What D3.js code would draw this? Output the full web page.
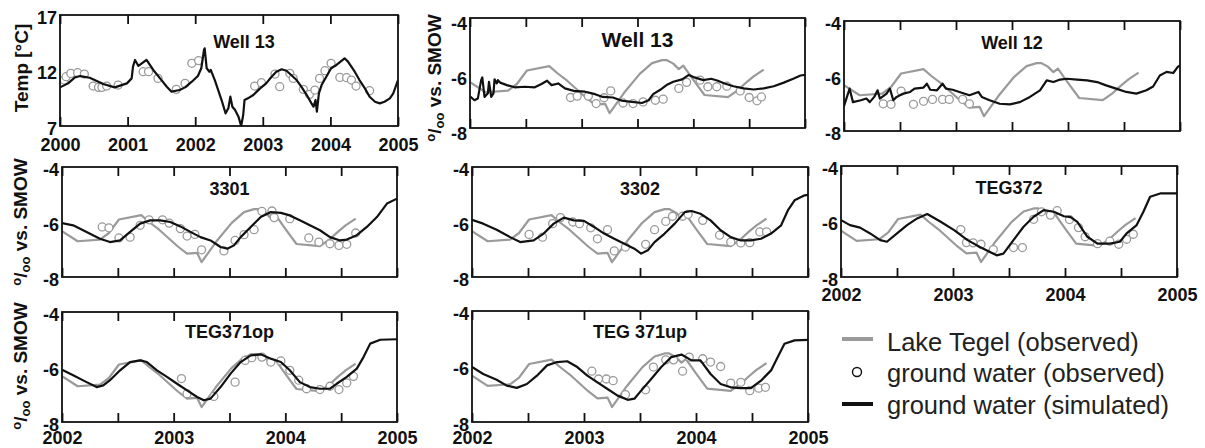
<!DOCTYPE html>
<html>
<head>
<meta charset="utf-8">
<script src="https://cdn.jsdelivr.net/npm/d3@7"></script>
<style>
  body { margin: 0; background: #fff; }
  svg { display: block; font-family: "Liberation Sans", Arial, sans-serif; }
</style>
</head>
<body>
<div id="chart"></div>
<script>
// ---- data: [decimal year, value] ----
// Lake Tegel (observed) d18O, same series in every isotope panel
var lakeTegel = [[2002.00,-6.33],[2002.14,-6.70],[2002.34,-6.64],[2002.42,-6.40],[2002.51,-5.91],[2002.71,-5.75],[2002.78,-6.00],[2002.87,-6.28],[2003.04,-6.90],[2003.12,-7.15],[2003.21,-7.12],[2003.25,-7.46],[2003.38,-6.72],[2003.52,-6.03],[2003.63,-5.64],[2003.72,-5.53],[2003.76,-5.53],[2003.82,-5.66],[2003.87,-5.86],[2003.91,-5.73],[2004.00,-6.25],[2004.10,-6.80],[2004.31,-6.88],[2004.40,-6.62],[2004.47,-6.36],[2004.54,-6.12],[2004.63,-5.88]];

// Well 13 temperature
var tempSim = [[2000.00,10.48],[2000.12,10.84],[2000.22,11.38],[2000.30,11.50],[2000.44,11.35],[2000.64,10.78],[2000.81,10.48],[2000.99,10.84],[2001.06,11.29],[2001.08,12.35],[2001.11,12.95],[2001.16,12.41],[2001.26,12.86],[2001.28,12.95],[2001.38,12.05],[2001.48,11.29],[2001.58,10.54],[2001.65,10.09],[2001.77,10.24],[2001.85,10.48],[2001.95,10.99],[2002.04,11.50],[2002.09,12.20],[2002.13,13.85],[2002.14,14.00],[2002.17,12.20],[2002.21,11.89],[2002.23,12.05],[2002.29,11.14],[2002.34,10.24],[2002.39,9.34],[2002.45,8.14],[2002.49,8.59],[2002.52,9.64],[2002.55,8.74],[2002.59,8.44],[2002.64,7.84],[2002.68,7.00],[2002.71,7.99],[2002.73,9.34],[2002.78,9.49],[2002.86,9.79],[2002.96,10.39],[2003.05,10.84],[2003.13,11.44],[2003.20,11.89],[2003.28,12.11],[2003.35,11.98],[2003.42,11.59],[2003.50,11.14],[2003.57,10.54],[2003.65,9.79],[2003.72,9.04],[2003.75,8.74],[2003.78,9.34],[2003.80,8.29],[2003.83,9.94],[2003.87,10.69],[2003.94,11.44],[2004.01,12.20],[2004.09,12.50],[2004.15,12.80],[2004.21,13.10],[2004.26,12.80],[2004.31,12.35],[2004.36,11.89],[2004.43,11.14],[2004.51,10.39],[2004.58,9.64],[2004.66,9.19],[2004.73,9.04],[2004.80,9.19],[2004.88,9.49],[2004.93,9.94],[2005.00,11.14]];
var tempObs = [[2000.06,11.14],[2000.09,11.44],[2000.16,11.74],[2000.26,11.80],[2000.36,11.68],[2000.49,10.60],[2000.57,10.48],[2000.62,10.48],[2000.69,10.60],[2000.86,10.69],[2001.23,11.89],[2001.31,11.89],[2001.45,11.29],[2001.72,10.30],[2001.85,10.84],[2001.95,12.65],[2002.05,12.89],[2002.88,10.60],[2002.98,10.90],[2003.18,11.68],[2003.25,10.54],[2003.40,11.74],[2003.45,11.29],[2003.60,10.30],[2003.69,9.85],[2003.77,10.24],[2003.84,11.29],[2003.92,11.98],[2004.01,12.65],[2004.14,11.38],[2004.24,11.35],[2004.31,11.14],[2004.38,10.60],[2004.58,10.18]];

// Well 13 d18O
var well13Sim = [[2002.00,-6.85],[2002.04,-6.99],[2002.07,-6.93],[2002.10,-6.26],[2002.11,-6.16],[2002.13,-6.87],[2002.16,-6.74],[2002.17,-6.32],[2002.19,-6.87],[2002.21,-6.74],[2002.22,-6.23],[2002.24,-6.38],[2002.25,-6.26],[2002.27,-6.35],[2002.33,-6.44],[2002.40,-6.52],[2002.49,-6.50],[2002.58,-6.52],[2002.64,-6.40],[2002.69,-6.28],[2002.73,-6.44],[2002.79,-6.38],[2002.85,-6.56],[2002.93,-6.65],[2003.03,-6.68],[2003.12,-6.77],[2003.19,-6.87],[2003.28,-6.89],[2003.36,-7.01],[2003.45,-7.05],[2003.54,-7.09],[2003.60,-6.99],[2003.64,-6.77],[2003.70,-6.62],[2003.76,-6.44],[2003.82,-6.32],[2003.90,-6.23],[2003.96,-6.07],[2004.01,-6.16],[2004.09,-6.26],[2004.16,-6.21],[2004.22,-6.28],[2004.28,-6.38],[2004.36,-6.48],[2004.45,-6.56],[2004.54,-6.60],[2004.63,-6.56],[2004.72,-6.48],[2004.81,-6.35],[2004.90,-6.20],[2004.96,-6.09],[2005.00,-6.07]];
var well13Obs = [[2002.90,-6.89],[2002.96,-6.84],[2003.06,-6.84],[2003.13,-7.11],[2003.20,-6.90],[2003.26,-6.65],[2003.37,-7.09],[2003.46,-7.11],[2003.55,-7.05],[2003.66,-6.99],[2003.73,-6.95],[2003.87,-6.56],[2003.94,-6.34],[2004.06,-6.26],[2004.13,-6.50],[2004.21,-6.50],[2004.30,-6.48],[2004.42,-6.65],[2004.50,-6.89],[2004.57,-7.01],[2004.61,-6.87]];

// Well 12 d18O
var well12Sim = [[2002.00,-7.10],[2002.05,-6.46],[2002.08,-6.95],[2002.15,-6.88],[2002.20,-6.82],[2002.23,-6.95],[2002.27,-6.76],[2002.30,-6.52],[2002.32,-6.82],[2002.38,-6.64],[2002.41,-6.46],[2002.44,-6.88],[2002.47,-6.76],[2002.53,-6.64],[2002.59,-6.58],[2002.63,-6.46],[2002.71,-6.42],[2002.74,-6.28],[2002.77,-6.50],[2002.83,-6.52],[2002.88,-6.28],[2002.91,-6.46],[2002.97,-6.50],[2003.03,-6.58],[2003.12,-6.70],[2003.20,-6.58],[2003.23,-6.76],[2003.30,-6.88],[2003.39,-7.01],[2003.48,-7.03],[2003.57,-6.95],[2003.66,-6.76],[2003.75,-6.52],[2003.81,-6.16],[2003.87,-6.22],[2003.93,-6.13],[2003.99,-6.10],[2004.08,-6.13],[2004.17,-6.16],[2004.26,-6.22],[2004.34,-6.34],[2004.43,-6.46],[2004.52,-6.58],[2004.61,-6.64],[2004.70,-6.52],[2004.76,-6.38],[2004.82,-5.98],[2004.88,-5.85],[2004.94,-5.89],[2004.98,-5.67],[2005.00,-5.62]];
var well12Obs = [[2002.35,-7.01],[2002.42,-7.03],[2002.51,-6.55],[2002.62,-7.03],[2002.71,-6.92],[2002.79,-6.85],[2002.88,-6.85],[2002.94,-6.85],[2003.06,-6.85],[2003.12,-7.01]];

// 3301
var w3301Sim = [[2002.00,-6.04],[2002.10,-6.12],[2002.22,-6.36],[2002.34,-6.61],[2002.43,-6.73],[2002.52,-6.67],[2002.61,-6.36],[2002.70,-6.06],[2002.79,-5.94],[2002.88,-5.94],[2002.97,-6.00],[2003.06,-6.16],[2003.15,-6.36],[2003.24,-6.55],[2003.33,-6.67],[2003.42,-6.91],[2003.48,-6.97],[2003.54,-6.85],[2003.60,-6.55],[2003.69,-6.18],[2003.78,-5.82],[2003.87,-5.64],[2003.96,-5.67],[2004.04,-5.76],[2004.13,-5.94],[2004.22,-6.12],[2004.31,-6.30],[2004.40,-6.55],[2004.49,-6.67],[2004.55,-6.64],[2004.64,-6.48],[2004.73,-6.18],[2004.82,-5.82],[2004.91,-5.33],[2005.00,-5.15]];
var w3301Obs = [[2002.36,-6.18],[2002.42,-6.21],[2002.51,-6.58],[2002.61,-6.55],[2002.70,-6.12],[2002.78,-5.92],[2002.90,-5.92],[2002.96,-6.04],[2003.06,-6.24],[2003.12,-6.51],[2003.19,-6.45],[2003.25,-7.01],[2003.45,-7.05],[2003.55,-6.67],[2003.63,-6.46],[2003.72,-6.28],[2003.79,-5.61],[2003.88,-5.60],[2003.90,-5.84],[2004.04,-5.88],[2004.21,-6.58],[2004.30,-6.73],[2004.40,-6.79],[2004.48,-6.85],[2004.55,-6.81],[2004.63,-6.40]];

// 3302
var w3302Sim = [[2002.00,-5.92],[2002.10,-6.06],[2002.22,-6.28],[2002.34,-6.55],[2002.43,-6.73],[2002.55,-6.67],[2002.64,-6.42],[2002.73,-6.06],[2002.82,-5.84],[2002.91,-5.94],[2003.00,-5.96],[2003.09,-6.18],[2003.18,-6.42],[2003.27,-6.61],[2003.36,-6.79],[2003.45,-6.97],[2003.51,-7.15],[2003.57,-7.03],[2003.63,-6.73],[2003.72,-6.42],[2003.81,-6.06],[2003.90,-5.64],[2003.96,-5.60],[2004.04,-5.70],[2004.13,-5.94],[2004.22,-6.30],[2004.31,-6.55],[2004.40,-6.67],[2004.49,-6.67],[2004.58,-6.61],[2004.67,-6.42],[2004.76,-6.12],[2004.82,-5.58],[2004.88,-5.21],[2004.97,-5.03],[2005.00,-5.01]];
var w3302Obs = [[2002.51,-6.45],[2002.63,-6.55],[2002.72,-6.06],[2002.79,-5.84],[2002.90,-6.00],[2002.96,-6.06],[2003.06,-6.21],[2003.12,-6.61],[2003.21,-6.28],[2003.27,-7.05],[2003.37,-6.91],[2003.55,-6.81],[2003.63,-6.28],[2003.73,-5.98],[2003.79,-5.79],[2003.88,-5.79],[2003.93,-5.72],[2004.06,-5.94],[2004.21,-6.48],[2004.31,-6.73],[2004.40,-6.76],[2004.48,-6.75],[2004.57,-6.36],[2004.63,-6.36]];

// TEG372
var teg372Sim = [[2002.00,-5.95],[2002.08,-6.13],[2002.17,-6.22],[2002.26,-6.43],[2002.35,-6.67],[2002.41,-6.73],[2002.50,-6.43],[2002.59,-6.13],[2002.68,-5.89],[2002.77,-5.73],[2002.89,-6.01],[2003.01,-6.31],[2003.13,-6.67],[2003.24,-6.92],[2003.33,-7.10],[2003.39,-7.22],[2003.45,-7.16],[2003.54,-6.67],[2003.63,-6.19],[2003.72,-5.83],[2003.81,-5.59],[2003.90,-5.65],[2003.99,-5.81],[2004.05,-5.84],[2004.11,-6.01],[2004.20,-6.55],[2004.29,-6.80],[2004.40,-6.80],[2004.49,-6.73],[2004.55,-6.43],[2004.64,-6.13],[2004.70,-5.65],[2004.76,-5.11],[2004.85,-4.99],[2005.00,-4.99]];
var teg372Obs = [[2003.07,-6.29],[2003.12,-6.76],[2003.18,-6.77],[2003.25,-6.82],[2003.36,-7.01],[2003.54,-6.94],[2003.62,-6.94],[2003.72,-5.92],[2003.79,-5.65],[2003.87,-5.77],[2003.93,-5.61],[2004.04,-5.93],[2004.12,-6.22],[2004.18,-6.55],[2004.29,-6.80],[2004.40,-6.71],[2004.48,-6.82],[2004.55,-6.64],[2004.61,-6.46]];

// TEG371op
var teg371opSim = [[2002.00,-6.10],[2002.10,-6.30],[2002.22,-6.55],[2002.31,-6.73],[2002.37,-6.67],[2002.43,-6.48],[2002.52,-6.12],[2002.61,-5.82],[2002.70,-5.76],[2002.76,-5.82],[2002.85,-6.12],[2002.94,-6.36],[2003.03,-6.61],[2003.12,-6.85],[2003.21,-7.09],[2003.27,-7.21],[2003.33,-7.15],[2003.42,-6.73],[2003.51,-6.24],[2003.60,-5.82],[2003.69,-5.58],[2003.78,-5.54],[2003.87,-5.70],[2003.96,-5.82],[2004.04,-6.12],[2004.13,-6.55],[2004.22,-6.73],[2004.31,-6.79],[2004.40,-6.79],[2004.46,-6.61],[2004.55,-6.36],[2004.64,-6.06],[2004.70,-5.64],[2004.76,-5.15],[2004.85,-5.01],[2005.00,-4.99]];
var teg371opObs = [[2003.07,-6.42],[2003.12,-6.97],[2003.36,-7.07],[2003.55,-6.55],[2003.64,-5.76],[2003.70,-5.66],[2003.79,-5.64],[2003.87,-5.82],[2003.96,-5.78],[2004.04,-6.12],[2004.12,-6.48],[2004.19,-6.79],[2004.31,-6.82],[2004.40,-6.70],[2004.48,-6.82],[2004.55,-6.58],[2004.61,-6.34]];

// TEG 371up
var teg371upSim = [[2002.00,-6.02],[2002.10,-6.27],[2002.22,-6.48],[2002.31,-6.69],[2002.40,-6.77],[2002.49,-6.63],[2002.58,-6.33],[2002.67,-5.96],[2002.76,-5.84],[2002.85,-5.81],[2002.94,-6.02],[2003.03,-6.33],[2003.12,-6.57],[2003.21,-6.81],[2003.30,-7.05],[2003.39,-7.20],[2003.45,-7.16],[2003.51,-6.87],[2003.60,-6.45],[2003.69,-6.02],[2003.78,-5.66],[2003.87,-5.57],[2003.96,-5.78],[2004.04,-5.78],[2004.13,-6.27],[2004.22,-6.63],[2004.31,-6.75],[2004.40,-6.78],[2004.49,-6.78],[2004.58,-6.51],[2004.67,-6.14],[2004.73,-5.66],[2004.79,-5.18],[2004.88,-5.06],[2005.00,-5.04]];
var teg371upObs = [[2003.07,-6.17],[2003.13,-6.45],[2003.20,-6.45],[2003.26,-6.51],[2003.37,-7.01],[2003.55,-6.84],[2003.62,-6.02],[2003.73,-5.76],[2003.80,-5.76],[2003.88,-6.17],[2003.94,-5.66],[2004.06,-5.72],[2004.13,-5.84],[2004.22,-6.00],[2004.31,-6.60],[2004.40,-6.57],[2004.48,-6.87],[2004.56,-6.78],[2004.62,-6.75]];

var halfYears = [2002, 2002.5, 2003, 2003.5, 2004, 2004.5, 2005];
var years = [2002, 2003, 2004, 2005];
var tempYears = [2000, 2001, 2002, 2003, 2004, 2005];
var d18Ticks = [-8, -6, -4];
var tempTicks = [7, 12, 17];
var legendLabels = ["Lake Tegel (observed)", "ground water (observed)", "ground water (simulated)"];

// ---- layout ----
var W = 1205, H = 448;
var GREY = "#9a9a9a";

var panels = [
  { title: "Well 13", box: [60, 398, 15, 126], xd: [2000, 2005], yd: [7, 17], xt: tempYears, xl: tempYears, yt: tempTicks,
    sim: tempSim, obs: tempObs, lake: null, ylab: "temp", ylabPos: [28, 68], xlabOff: 25, titleOff: 33, titleX: 244, titleSize: 18 },
  { title: "Well 13", box: [470, 805, 18, 128], yt: d18Ticks, sim: well13Sim, obs: well13Obs,
    ylab: "smow", ylabPos: [441, 78], titleOff: 29, titleSize: 21, ydy: 5 },
  { title: "Well 12", box: [844, 1180, 21, 131], yt: d18Ticks, sim: well12Sim, obs: well12Obs, titleOff: 28 },
  { title: "3301", box: [62, 397, 167, 277], yt: d18Ticks, sim: w3301Sim, obs: w3301Obs, ylab: "smow", ylabPos: [27, 222], titleOff: 28 },
  { title: "3302", box: [472, 808, 167, 277], yt: d18Ticks, sim: w3302Sim, obs: w3302Obs, titleOff: 28 },
  { title: "TEG372", box: [841, 1177, 166, 277], yt: d18Ticks, sim: teg372Sim, obs: teg372Obs, xl: years, xlabOff: 24, titleOff: 28 },
  { title: "TEG371op", box: [62, 397, 312, 422], yt: d18Ticks, sim: teg371opSim, obs: teg371opObs, xl: years, xlabOff: 22,
    ylab: "smow", ylabPos: [27, 366], titleOff: 26 },
  { title: "TEG 371up", box: [472, 808, 311, 422], yt: d18Ticks, sim: teg371upSim, obs: teg371upObs, xl: years, xlabOff: 22, titleOff: 27 }
];

var svg = d3.select("#chart").append("svg")
  .attr("width", W)
  .attr("height", H);

var line = function (x, y) {
  return d3.line().x(d => x(d[0])).y(d => y(d[1]));
};

panels.forEach(function (p, i) {
  var b = p.box;
  var x = d3.scaleLinear().domain(p.xd || [2002, 2005]).range([b[0], b[1]]);
  var y = d3.scaleLinear().domain(p.yd || [-8, -4]).range([b[3], b[2]]);
  var xt = p.xt || halfYears;
  var g = svg.append("g");

  g.append("clipPath").attr("id", "clip" + i)
    .append("rect").attr("x", b[0]).attr("y", b[2]).attr("width", b[1] - b[0]).attr("height", b[3] - b[2]);

  var plot = g.append("g").attr("clip-path", "url(#clip" + i + ")");

  // lake line (all isotope panels)
  if (p.lake !== null) {
    plot.append("path")
      .datum(lakeTegel)
      .attr("d", line(x, y))
      .attr("fill", "none")
      .attr("stroke", GREY)
      .attr("stroke-width", 2.2)
      .attr("stroke-linejoin", "round");
  }

  plot.selectAll("circle")
    .data(p.obs)
    .enter()
    .append("circle")
    .attr("cx", d => x(d[0]))
    .attr("cy", d => y(d[1]))
    .attr("r", 4)
    .attr("fill", "#fff")
    .attr("stroke", GREY)
    .attr("stroke-width", 1.3);

  plot.append("path")
    .datum(p.sim)
    .attr("d", line(x, y))
    .attr("fill", "none")
    .attr("stroke", "#111")
    .attr("stroke-width", 2.2)
    .attr("stroke-linejoin", "round");

  // inward ticks top and bottom
  g.append("g")
    .attr("transform", `translate(0,${b[3]})`)
    .call(d3.axisBottom(x).tickValues(xt).tickSizeInner(-9).tickSizeOuter(0).tickFormat(""))
    .call(a => a.select(".domain").remove());
  g.append("g")
    .attr("transform", `translate(0,${b[2]})`)
    .call(d3.axisTop(x).tickValues(xt).tickSizeInner(-9).tickSizeOuter(0).tickFormat(""))
    .call(a => a.select(".domain").remove());
  g.selectAll(".tick line").attr("stroke", "#111").attr("stroke-width", 1.8);

  // frame
  g.append("rect")
    .attr("x", b[0]).attr("y", b[2])
    .attr("width", b[1] - b[0]).attr("height", b[3] - b[2])
    .attr("fill", "none")
    .attr("stroke", "#111")
    .attr("stroke-width", 1.8);

  // y tick labels
  var ya = g.append("g")
    .attr("transform", `translate(${b[0]},0)`)
    .call(d3.axisLeft(y).tickValues(p.yt).tickSize(0).tickPadding(3).tickFormat(d => String(d)));
  ya.select(".domain").remove();
  ya.selectAll("text")
    .attr("dy", (p.ydy || 2) + 6 + "px")
    .attr("font-size", "18px")
    .attr("font-weight", "bold")
    .attr("font-family", "Liberation Sans, Arial, sans-serif")
    .attr("fill", "#111");

  // x tick labels
  if (p.xl) {
    var xa = g.append("g")
      .attr("transform", `translate(0,${b[3]})`)
      .call(d3.axisBottom(x).tickValues(p.xl).tickSize(0).tickPadding(p.xlabOff - 13).tickFormat(d3.format("d")));
    xa.select(".domain").remove();
    xa.selectAll("text")
      .attr("font-size", "18px")
      .attr("font-weight", "bold")
      .attr("font-family", "Liberation Sans, Arial, sans-serif")
      .attr("fill", "#111");
  }

  // title
  g.append("text")
    .attr("x", p.titleX || (b[0] + b[1]) / 2)
    .attr("y", b[2] + p.titleOff)
    .attr("text-anchor", "middle")
    .attr("font-size", (p.titleSize || 18) + "px")
    .attr("font-weight", "bold")
    .attr("fill", "#111")
    .text(p.title);

  // y axis title
  if (p.ylab) {
    var t = g.append("text")
      .attr("transform", `translate(${p.ylabPos[0]},${p.ylabPos[1]}) rotate(-90)`)
      .attr("text-anchor", "middle")
      .attr("font-size", "19px")
      .attr("font-weight", "bold")
      .attr("fill", "#111");
    if (p.ylab === "temp") {
      t.text("Temp [\u00B0C]");
    } else {
      t.append("tspan").attr("font-size", "13px").attr("dy", "-6").text("o");
      t.append("tspan").attr("dy", "6").text("/");
      t.append("tspan").attr("font-size", "13px").attr("dy", "3").text("oo");
      t.append("tspan").attr("dy", "-3").text(" vs. SMOW");
    }
  }
});

// ---- legend ----
var legend = svg.append("g").attr("transform", "translate(842,0)");
var rowY = [339, 372, 404];
var baseY = [351, 382, 414];

legend.append("line")
  .attr("x1", 0).attr("x2", 31).attr("y1", rowY[0]).attr("y2", rowY[0])
  .attr("stroke", GREY).attr("stroke-width", 4);
legend.append("circle")
  .attr("cx", 15).attr("cy", rowY[1]).attr("r", 4.5)
  .attr("fill", "#fff").attr("stroke", "#111").attr("stroke-width", 1.4);
legend.append("line")
  .attr("x1", 0).attr("x2", 31).attr("y1", rowY[2]).attr("y2", rowY[2])
  .attr("stroke", "#111").attr("stroke-width", 4);

legend.selectAll("text.leg")
  .data(legendLabels)
  .enter()
  .append("text")
  .attr("class", "leg")
  .attr("x", 45)
  .attr("y", (d, i) => baseY[i])
  .attr("font-size", "25.5px")
  .attr("fill", "#222")
  .text(d => d);
</script>
</body>
</html>
